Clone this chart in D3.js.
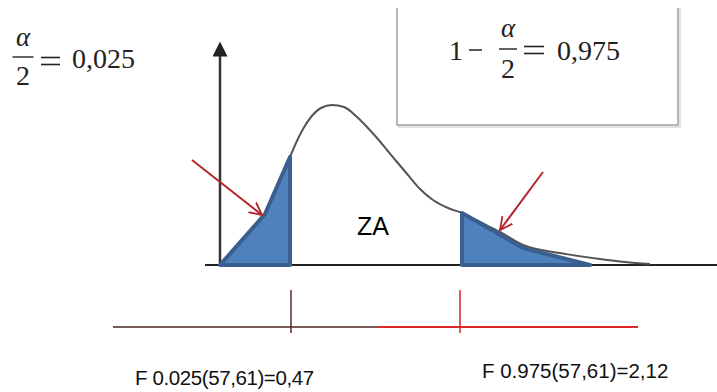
<!DOCTYPE html>
<html>
<head>
<meta charset="utf-8">
<script src="https://cdn.jsdelivr.net/npm/d3@7"></script>
<style>
  body { margin: 0; background: #fff; }
  svg { display: block; }
</style>
</head>
<body>
<div id="chart"></div>
<script>
// Define SVG area dimensions
var svgWidth = 717;
var svgHeight = 392;

// Schematic F density (abstract units)
var curveX = [14, 15.2, 16.6, 18.2, 20.2, 22.4, 24.8, 27.4, 29.4, 31.4, 33.4, 35.4, 37.6, 40, 42.6, 45.6, 48.4, 52, 56, 60.6, 68, 76, 81, 86];
var curveY = [54, 61, 68, 74, 78.5, 80, 79, 74, 69, 63.5, 57.5, 51.5, 45, 38, 32.5, 28.5, 26, 21.5, 16.5, 10, 6, 3, 1.5, 0.5];

// Shaded rejection regions
var lowerTailX = [0, 9, 14, 14];
var lowerTailY = [0, 25.5, 54, 0];
var upperTailX = [48.4, 60.6, 74, 48.4];
var upperTailY = [26, 8.5, 0, 0];

// Pointer arrows: [x1, y1, x2, y2]
var arrowsData = [[-5.6, 52.5, 8.4, 25], [64.6, 46.5, 56, 17.5]];

// Critical values on the number line
var critX = [14.2, 48];
var critLabels = ["F 0.025(57,61)=0,47", "F 0.975(57,61)=2,12"];
var lineSegments = [[-21.4, 31.4], [31.4, 83.6]];

var svg = d3.select("#chart")
  .append("svg")
  .attr("width", svgWidth)
  .attr("height", svgHeight);

var defs = svg.append("defs");
defs.append("marker")
  .attr("id", "axisHead")
  .attr("viewBox", "0 0 10 10")
  .attr("refX", 5).attr("refY", 5)
  .attr("markerWidth", 6).attr("markerHeight", 6)
  .attr("markerUnits", "strokeWidth")
  .attr("orient", "auto")
  .append("path")
  .attr("d", "M0,0 L10,5 L0,10 Z")
  .attr("fill", "#222");
defs.append("marker")
  .attr("id", "redHead")
  .attr("viewBox", "0 0 10 10")
  .attr("refX", 9).attr("refY", 5)
  .attr("markerWidth", 7).attr("markerHeight", 7)
  .attr("markerUnits", "strokeWidth")
  .attr("orient", "auto")
  .append("path")
  .attr("d", "M0,0.5 L9,5 L0,9.5")
  .attr("fill", "none")
  .attr("stroke", "#b3262b")
  .attr("stroke-width", 1.3);

// scales
var xScale = d3.scaleLinear().domain([0, 100]).range([220, 720]);
var yScale = d3.scaleLinear().domain([0, 100]).range([265, 65]);

// box with 1 - alpha/2
var box = svg.append("g");
box.append("path")
  .attr("d", "M399,8 V127 H680 V8")
  .attr("fill", "none")
  .attr("stroke", "#e2e2e2")
  .attr("stroke-width", 2);
box.append("path")
  .attr("d", "M397,8 V125 H678 V8")
  .attr("fill", "#fff")
  .attr("stroke", "#9e9e9e")
  .attr("stroke-width", 1.5);

// baseline
svg.append("line")
  .attr("x1", xScale(-3)).attr("x2", xScale(100))
  .attr("y1", yScale(0)).attr("y2", yScale(0))
  .attr("stroke", "#222")
  .attr("stroke-width", 2);

// y axis with arrow
svg.append("line")
  .attr("x1", xScale(0)).attr("x2", xScale(0))
  .attr("y1", yScale(0)).attr("y2", yScale(108))
  .attr("stroke", "#333")
  .attr("stroke-width", 2.5)
  .attr("marker-end", "url(#axisHead)");

// density curve
var curvePts = curveX.map((d, i) => [d, curveY[i]]);
var line = d3.line()
  .x(d => xScale(d[0]))
  .y(d => yScale(d[1]))
  .curve(d3.curveMonotoneX);
svg.append("path")
  .datum(curvePts)
  .attr("d", line)
  .attr("fill", "none")
  .attr("stroke", "#555")
  .attr("stroke-width", 2);

// shaded tails
var tails = [
  lowerTailX.map((d, i) => [d, lowerTailY[i]]),
  upperTailX.map((d, i) => [d, upperTailY[i]])
];
var polyLine = d3.line().x(d => xScale(d[0])).y(d => yScale(d[1]));
svg.selectAll(".tail")
  .data(tails)
  .enter()
  .append("path")
  .attr("class", "tail")
  .attr("d", d => polyLine(d) + "Z")
  .attr("fill", "#4f81bd")
  .attr("stroke", "#3a5f8e")
  .attr("stroke-width", 4)
  .attr("stroke-linejoin", "round");

// red arrows
svg.selectAll(".arrow")
  .data(arrowsData)
  .enter()
  .append("line")
  .attr("class", "arrow")
  .attr("x1", d => xScale(d[0]))
  .attr("y1", d => yScale(d[1]))
  .attr("x2", d => xScale(d[2]))
  .attr("y2", d => yScale(d[3]))
  .attr("stroke", "#b3262b")
  .attr("stroke-width", 2)
  .attr("marker-end", "url(#redHead)");

// ZA label
svg.append("text")
  .attr("x", 357).attr("y", 235)
  .attr("font-family", "Liberation Sans, Arial, sans-serif")
  .attr("font-size", 25)
  .attr("fill", "#000")
  .text("ZA");

// math annotations
var serif = "Liberation Serif, Times New Roman, serif";
function fraction(g, cx, yTop, yBar, yBottom, w) {
  g.append("text").attr("x", cx).attr("y", yTop)
    .attr("text-anchor", "middle").attr("font-style", "italic")
    .attr("font-family", serif).attr("font-size", 27).text("α");
  g.append("line").attr("x1", cx - w / 2).attr("x2", cx + w / 2)
    .attr("y1", yBar).attr("y2", yBar)
    .attr("stroke", "#222").attr("stroke-width", 1.4);
  g.append("text").attr("x", cx).attr("y", yBottom)
    .attr("text-anchor", "middle")
    .attr("font-family", serif).attr("font-size", 28).text("2");
}
function equals(g, x1, x2, y) {
  [y - 3.5, y + 3.5].forEach(function(yy) {
    g.append("line").attr("x1", x1).attr("x2", x2)
      .attr("y1", yy).attr("y2", yy)
      .attr("stroke", "#222").attr("stroke-width", 1.6);
  });
}

var leftMath = svg.append("g").attr("fill", "#222");
fraction(leftMath, 23, 46, 57, 85, 21);
equals(leftMath, 41, 60, 61);
leftMath.append("text").attr("x", 72).attr("y", 68)
  .attr("font-family", serif).attr("font-size", 28).text("0,025");

var rightMath = svg.append("g").attr("fill", "#222");
rightMath.append("text").attr("x", 449).attr("y", 60)
  .attr("font-family", serif).attr("font-size", 28).text("1");
rightMath.append("line")
  .attr("x1", 469).attr("x2", 482)
  .attr("y1", 50).attr("y2", 50)
  .attr("stroke", "#222").attr("stroke-width", 1.5);
fraction(rightMath, 508, 37, 49, 78, 18);
equals(rightMath, 524, 544, 50);
rightMath.append("text").attr("x", 557).attr("y", 60)
  .attr("font-family", serif).attr("font-size", 28).text("0,975");

// number line with critical values
var numLine = svg.append("g")
  .attr("transform", "translate(0, 327)");
var segColors = ["#7a5e5e", "#e0262b"];
numLine.selectAll(".seg")
  .data(lineSegments)
  .enter()
  .append("line")
  .attr("class", "seg")
  .attr("x1", d => xScale(d[0]))
  .attr("x2", d => xScale(d[1]))
  .attr("y1", 0).attr("y2", 0)
  .attr("stroke", (d, i) => segColors[i])
  .attr("stroke-width", 2);

var tickColors = ["#5a2a2a", "#d42228"];
numLine.selectAll(".tick")
  .data(critX)
  .enter()
  .append("line")
  .attr("class", "tick")
  .attr("x1", d => xScale(d))
  .attr("x2", d => xScale(d))
  .attr("y1", -37).attr("y2", 6)
  .attr("stroke", (d, i) => tickColors[i])
  .attr("stroke-width", 1.5);

var labelOffset = [[-156, 58], [22, 51]];
numLine.selectAll(".crit")
  .data(critLabels)
  .enter()
  .append("text")
  .attr("class", "crit")
  .attr("x", (d, i) => xScale(critX[i]) + labelOffset[i][0])
  .attr("y", (d, i) => labelOffset[i][1])
  .attr("font-family", "Liberation Sans, Arial, sans-serif")
  .attr("font-size", 20.5)
  .attr("letter-spacing", (d, i) => i === 0 ? -0.4 : 0)
  .attr("fill", "#111")
  .text(d => d);
</script>
</body>
</html>
